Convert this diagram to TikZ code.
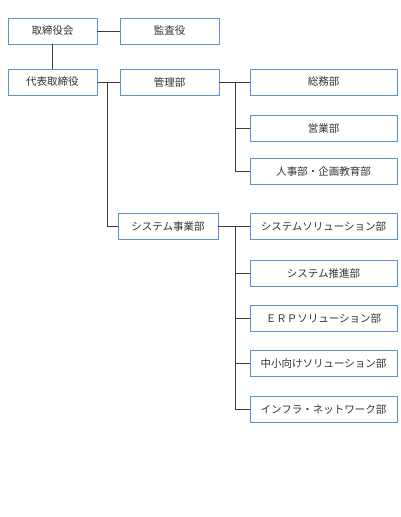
\documentclass[tikz,border=0pt]{standalone}
\usepackage{fontspec}
\setmainfont{Noto Sans CJK JP}
\usepackage{xcolor}
\usepackage{tikz}
\usetikzlibrary{positioning}
\definecolor{boxblue}{RGB}{92,146,212}
\definecolor{linegray}{RGB}{60,60,60}
\tikzset{
  orgbox/.style={draw=boxblue, line width=0.9pt, fill=white, text=black!80,
    minimum height=26pt, inner sep=0pt, font=\fontsize{10.5}{12}\selectfont},
  topbox/.style={orgbox, minimum width=89pt},
  midbox/.style={orgbox, minimum width=99pt},
  subbox/.style={orgbox, minimum width=147pt},
  orgline/.style={draw=linegray, line width=1pt}
}

\begin{document}
\begin{tikzpicture}[x=1pt, y=-1pt]
    \useasboundingbox (0,0) rectangle (400,517);          % page size
    \node [topbox] (board) at (52.5,31) {取締役会};           % top row
    \node [midbox] (auditor) at (169.5,31) {監査役};
    \node [topbox] (president) at (52.5,82) {代表取締役};     % second row
    \node [midbox] (admin) at (169.5,82) {管理部};
    \node [midbox, minimum width=100pt] (sysdiv) at (168,226.5) {システム事業部};
    \node [subbox] (general) at (323.5,82) {総務部};          % admin departments
    \node [subbox] (sales) at (323.5,128.5) {営業部};
    \node [subbox] (hr) at (323.5,171.5) {人事部・企画教育部};
    \node [subbox] (syssol) at (323.5,226.5) {システムソリューション部}; % system departments
    \node [subbox] (promo) at (323.5,273) {システム推進部};
    \node [subbox] (erp) at (323.5,318.5) {ＥＲＰソリューション部};
    \node [subbox] (smb) at (323.5,363.5) {中小向けソリューション部};
    \node [subbox] (infra) at (323.5,409.5) {インフラ・ネットワーク部};
    \coordinate (presbus) at (107,82);                     % branch points
    \coordinate (adminbus) at (235,82);
    \coordinate (sysbus) at (235,226.5);
    \draw [orgline] (board) -- (auditor);
    \draw [orgline] (board) -- (president);
    \draw [orgline] (president) -- (admin);
    \draw [orgline] (presbus) |- (sysdiv.west);
    \draw [orgline] (admin) -- (general);
    \draw [orgline] (adminbus) |- (sales.west);
    \draw [orgline] (adminbus) |- (hr.west);
    \draw [orgline] (sysdiv) -- (syssol);
    \draw [orgline] (sysbus) |- (promo.west);
    \draw [orgline] (sysbus) |- (erp.west);
    \draw [orgline] (sysbus) |- (smb.west);
    \draw [orgline] (sysbus) |- (infra.west);
\end{tikzpicture}
\end{document}
